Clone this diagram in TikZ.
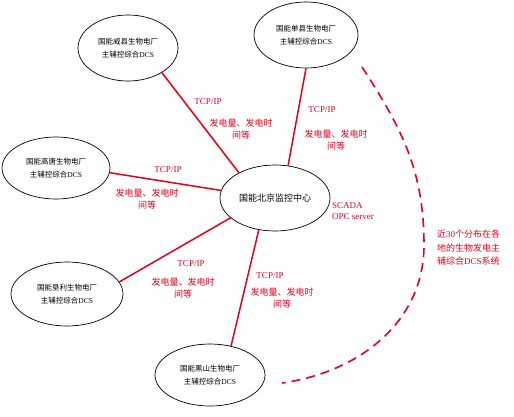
\documentclass[tikz,border=0pt]{standalone}
\usepackage{fontspec}
\setmainfont{Liberation Serif}
\newfontfamily\cjk{Noto Sans CJK SC}
\usetikzlibrary{shapes.geometric}
\definecolor{lred}{RGB}{228,0,27}
\newcommand{\zhtxt}[1]{{\cjk #1}}
\begin{document}
\begin{tikzpicture}[x=1pt,y=-1pt,
  plant/.style={draw=black, line width=0.7pt, ellipse, inner sep=0pt, align=center,
    font=\fontsize{7.5}{12.5}\selectfont},
  link/.style={draw=lred, line width=1.5pt},
  lbl/.style={text=lred, font=\fontsize{9}{11.5}\selectfont, align=center, inner sep=0pt},
  arcline/.style={draw=lred, line width=1.6pt, dash pattern=on 9pt off 6pt},
]
\fill[white] (0,0) rectangle (514,416);
\useasboundingbox (0,0) rectangle (514,416);

% plants
\node[plant, minimum width=100pt, minimum height=66pt] (wx) at (128,48)
  {\zhtxt{国能威县生物电厂}\\\zhtxt{主辅控综合}DCS};
\node[plant, minimum width=104pt, minimum height=66pt] (sx) at (306,35)
  {\zhtxt{国能单县生物电厂}\\\zhtxt{主辅控综合}DCS};
\node[plant, minimum width=108pt, minimum height=62pt] (gt) at (56,168)
  {\zhtxt{国能高唐生物电厂}\\\zhtxt{主辅控综合}DCS};
\node[plant, minimum width=112pt, minimum height=64pt] (kl) at (67,294)
  {\zhtxt{国能垦利生物电厂}\\\zhtxt{主辅控综合}DCS};
\node[plant, minimum width=110pt, minimum height=62pt] (hs) at (210,375)
  {\zhtxt{国能黑山生物电厂}\\\zhtxt{主辅控综合}DCS};
\node[plant, minimum width=110pt, minimum height=66pt, font=\fontsize{9}{11}\selectfont] (bj) at (275,198)
  {\zhtxt{国能北京监控中心}};

% links
\draw[link] (wx.-36) -- (bj.145);
\draw[link] (sx.-90) -- (bj.68);
\draw[link] (gt.-5) -- (bj.172);
\draw[link] (kl.13) -- (bj.-156);
\draw[link] (hs.54) -- (bj.-117);

% labels
\node[lbl] (t1) at (208,102) {TCP/IP};
\node[lbl] (d1) at (241,129) {\zhtxt{发电量、发电时}\\\zhtxt{间等}};
\node[lbl] (t2) at (322,110) {TCP/IP};
\node[lbl] (d2) at (336,140) {\zhtxt{发电量、发电时}\\\zhtxt{间等}};
\node[lbl] (t3) at (168,170) {TCP/IP};
\node[lbl] (d3) at (147,199) {\zhtxt{发电量、发电时}\\\zhtxt{间等}};
\node[lbl] (t4) at (191,264) {TCP/IP};
\node[lbl] (d4) at (183,288) {\zhtxt{发电量、发电时}\\\zhtxt{间等}};
\node[lbl] (t5) at (270,276) {TCP/IP};
\node[lbl] (d5) at (282,298) {\zhtxt{发电量、发电时}\\\zhtxt{间等}};
\node[lbl, align=left, anchor=west] (scada) at (332,211) {SCADA\\OPC server};
\node[lbl, align=left, anchor=west, font=\fontsize{9}{13.5}\selectfont] (note) at (437,248)
  {\zhtxt{近}30\zhtxt{个分布在各}\\\zhtxt{地的生物发电主}\\\zhtxt{辅综合}DCS\zhtxt{系统}};

% dashed arc
\coordinate (a0) at (362,67);
\coordinate (a1) at (424,245);
\coordinate (a2) at (282,383);
\draw[arcline] (a0) to[out=-57, in=90] (a1) to[out=-90, in=8] (a2);
\end{tikzpicture}
\end{document}
